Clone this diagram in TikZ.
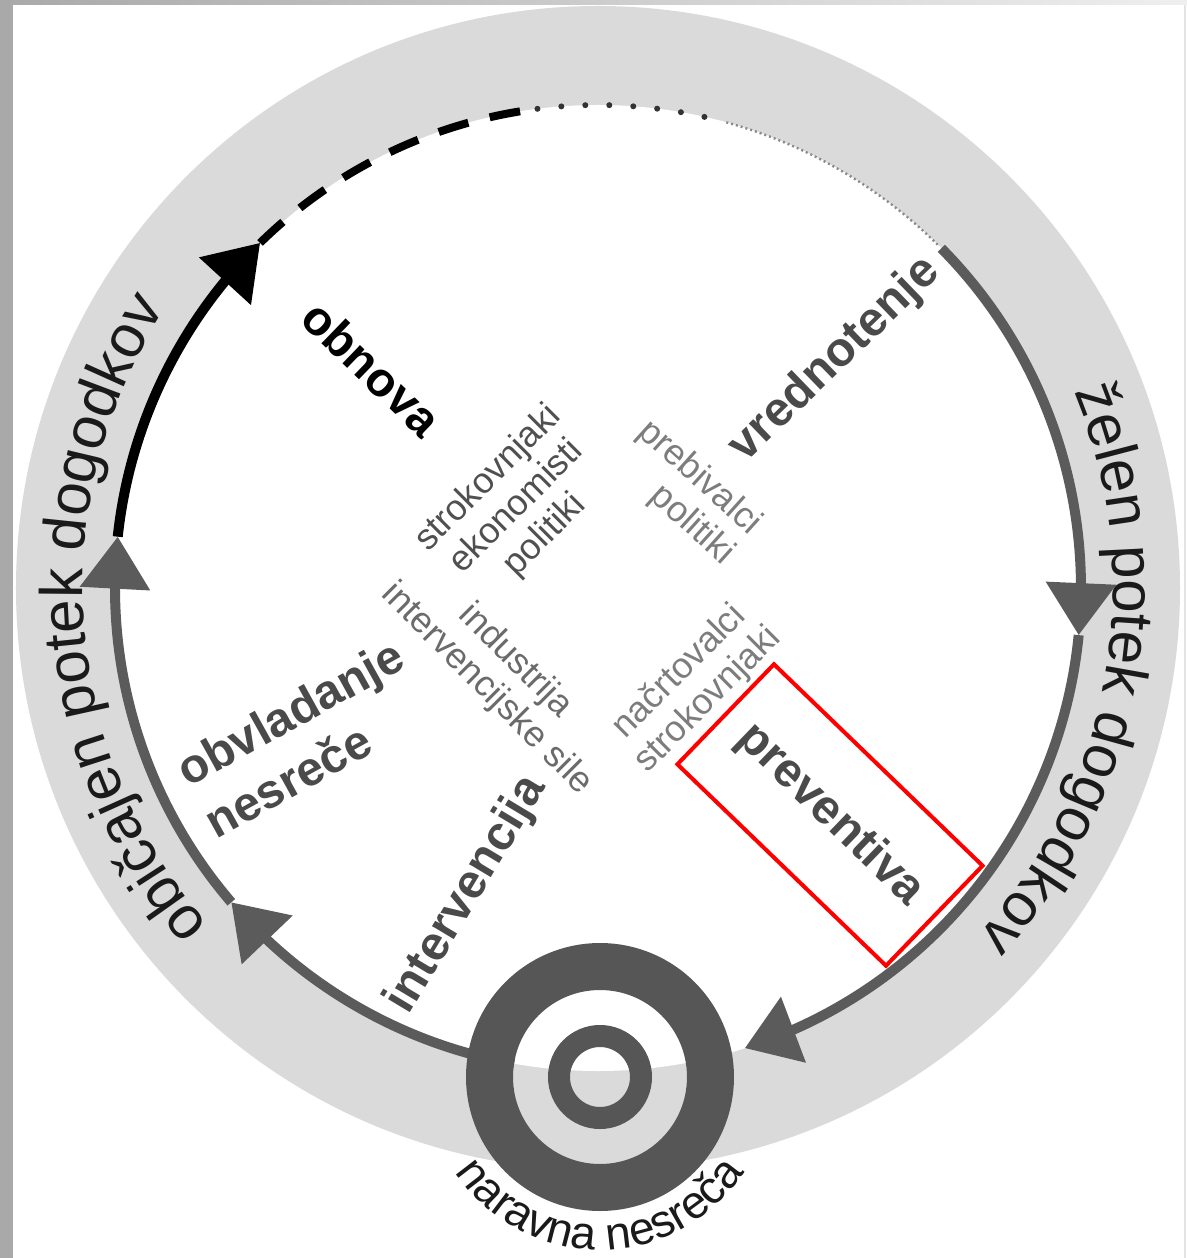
\documentclass[tikz,border=0pt]{standalone}
\usepackage{fontspec}
\setmainfont{Liberation Sans}
\usetikzlibrary{arrows.meta,bending,decorations.text}
\definecolor{bandgray}{HTML}{DADADA}
\definecolor{linegray}{HTML}{5B5B5B}
\definecolor{ringgray}{HTML}{565656}
\definecolor{phasegray}{HTML}{4A4A4A}
\definecolor{actdark}{HTML}{505050}
\definecolor{actlight}{HTML}{7D7D7D}
\definecolor{actmid}{HTML}{6B6B6B}
\definecolor{framegray}{HTML}{A9A9A9}
\definecolor{framelight}{HTML}{EFEFEF}
\definecolor{dotdark}{HTML}{333333}
\definecolor{dotlight}{HTML}{8A8A8A}
\definecolor{textblack}{HTML}{1A1A1A}
\begin{document}
\begin{tikzpicture}[x=0.5pt,y=0.5pt,
  loopline/.style={line width=5pt, draw=linegray},
  bigtip/.style={-{Triangle[width=34pt,length=26pt]}},
  phase/.style={font=\fontsize{24}{29.5}\selectfont\bfseries, text=phasegray, inner sep=0pt},
  actors/.style={font=\fontsize{18}{20}\selectfont, inner sep=0pt},
]
\useasboundingbox (-598,-670) rectangle (589,588);
\fill[white] (-598,-670) rectangle (589,588);
% frame
\shade[left color=framegray, right color=framelight] (-598,583) rectangle (589,588);
\fill[framegray] (-598,-670) rectangle (-585,588);
\fill[framelight!90!gray] (586,-670) rectangle (588,583);
% band
\fill[bandgray] (0,0) circle[radius=582];
\fill[white] (0,0) circle[radius=483];
% target position
\coordinate (tc) at (2,-489);
% loop arcs
\draw[loopline, bigtip] (-100:483) arc[start angle=-100, end angle=-139.4, radius=483];
\draw[loopline, bigtip] (-139.4:483) arc[start angle=-139.4, end angle=-186.1, radius=483];
\draw[loopline, draw=black, -{Triangle[width=34pt,length=26pt]}] (173.9:483) arc[start angle=173.9, end angle=134.4, radius=483];
\draw[black, line width=4pt, dash pattern=on 15.5pt off 11pt] (134.4:483) arc[start angle=134.4, end angle=97.2, radius=483];
\draw[dotdark, line width=3pt, line cap=round, dash pattern=on 0pt off 12pt] (97.2:483) arc[start angle=97.2, end angle=74.6, radius=483];
\draw[dotlight, line width=1.2pt, dash pattern=on 1pt off 1.5pt] (74.6:483) arc[start angle=74.6, end angle=45.2, radius=483];
\draw[loopline, bigtip] (44.7:483) arc[start angle=44.7, end angle=-5.6, radius=483];
\draw[loopline, bigtip] (-5.6:483) arc[start angle=-5.6, end angle=-72.3, radius=483];
% target
\draw[ringgray, line width=23.5pt] (tc) circle[radius=110.5];
\draw[ringgray, line width=11pt] (tc) circle[radius=41];
% arc texts
\path[decorate, decoration={text along path, text align=center, text color=textblack,
  text={|\fontsize{30}{36}\selectfont|običajen potek dogodkov}}]
  (260:515) arc[start angle=260, end angle=108, radius=515];
\path[decorate, decoration={text along path, text align=center, text color=textblack,
  text={|\fontsize{30}{36}\selectfont|želen potek dogodkov}}]
  (66:515) arc[start angle=66, end angle=-86, radius=515];
\path[decorate, decoration={text along path, text align=center, text color=textblack,
  text={|\fontsize{23}{28}\selectfont|naravna nesreča}}]
  ([shift={(-170:173)}]tc) arc[start angle=-170, end angle=-10, radius=173];
% phase labels
\node[phase, text=black, rotate=-44] (obnova) at (-226,220) {obnova};
\node[phase, rotate=44] (vred) at (237,228) {vrednotenje};
\node[phase, rotate=-44, draw=red, line width=2pt, minimum width=145pt, minimum height=69.5pt] (prev) at (232,-227) {preventiva};
\node[phase, rotate=59] (interv) at (-131,-307) {intervencija};
\node[phase, rotate=29, align=left] (obvl) at (-294,-150) {obvladanje\\nesreče};
% actors
\node[actors, text=actdark, rotate=45, align=center] (a1) at (-81,81) {strokovnjaki\\ekonomisti\\politiki};
\node[actors, text=actlight, rotate=-42, align=right] (a2) at (88,95) {prebivalci\\politiki};
\node[actors, text=actmid, rotate=-45, align=center] (a3) at (-97,-87) {industrija\\intervencijske sile};
\node[actors, text=actlight, rotate=45, align=center] (a4) at (96,-98) {načrtovalci\\strokovnjaki};
\end{tikzpicture}
\end{document}
